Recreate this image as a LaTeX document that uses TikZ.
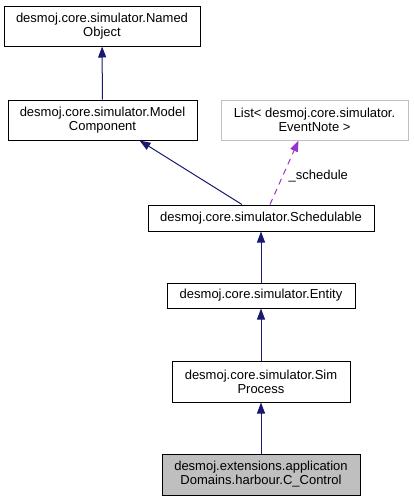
\documentclass[tikz,border=0pt]{standalone}
\usepackage{fontspec}
\setmainfont{Liberation Sans}
\usepackage{xcolor}
\usepackage{tikz}
\usetikzlibrary{arrows.meta,calc}
\definecolor{edgeblue}{HTML}{191970}
\definecolor{edgepurple}{HTML}{9A32CD}
\definecolor{boxgray}{HTML}{BFBFBF}
\tikzstyle{cls}=[rectangle, draw=black, fill=white, line width=1pt,% a plain class box
inner sep=0pt, align=center, font=\fontsize{13}{14}\selectfont]
\tikzstyle{clsgray}=[cls, fill=boxgray]
\tikzstyle{clsext}=[cls, draw=boxgray]
\tikzstyle{inh}=[-{Triangle[width=8pt,length=11pt]}, edgeblue, line width=1pt]
\tikzstyle{use}=[-{Triangle[width=8pt,length=11pt]}, edgepurple, line width=1pt, dashed, dash pattern=on 6pt off 5pt]

\begin{document}
\begin{tikzpicture}[x=1pt,y=-1pt]
\useasboundingbox (0,0) rectangle (413,501);
\node[cls, minimum width=196pt, minimum height=40pt] (named) at (102,26) {desmoj.core.simulator.Named\\Object};
\node[cls, minimum width=189pt, minimum height=40pt] (model) at (102.5,120) {desmoj.core.simulator.Model\\Component};
\node[clsext, minimum width=187pt, minimum height=40pt] (list) at (314.5,120) {List< desmoj.core.simulator.\\EventNote >};
\node[cls, minimum width=226pt, minimum height=26pt] (sched) at (261,218) {desmoj.core.simulator.Schedulable};
\node[cls, minimum width=188pt, minimum height=25pt] (entity) at (261,295.5) {desmoj.core.simulator.Entity};
\node[cls, minimum width=178pt, minimum height=41pt] (simproc) at (261,381.5) {desmoj.core.simulator.Sim\\Process};
\node[clsgray, minimum width=198pt, minimum height=41pt] (control) at (261,474.5) {desmoj.extensions.application\\Domains.harbour.C\_Control};
\draw[inh] (model) -- (named);
\draw[inh] ([xshift=-19pt]sched.north) -- ([xshift=37pt]model.south);
\draw[use] ([xshift=9pt]sched.north) -- node[right, pos=0.45, text=black, font=\fontsize{13}{14}\selectfont, xshift=2pt] {\_schedule} ([xshift=-16pt]list.south);
\draw[inh] (entity) -- (sched);
\draw[inh] (simproc) -- (entity);
\draw[inh] (control) -- (simproc);
\end{tikzpicture}
\end{document}
